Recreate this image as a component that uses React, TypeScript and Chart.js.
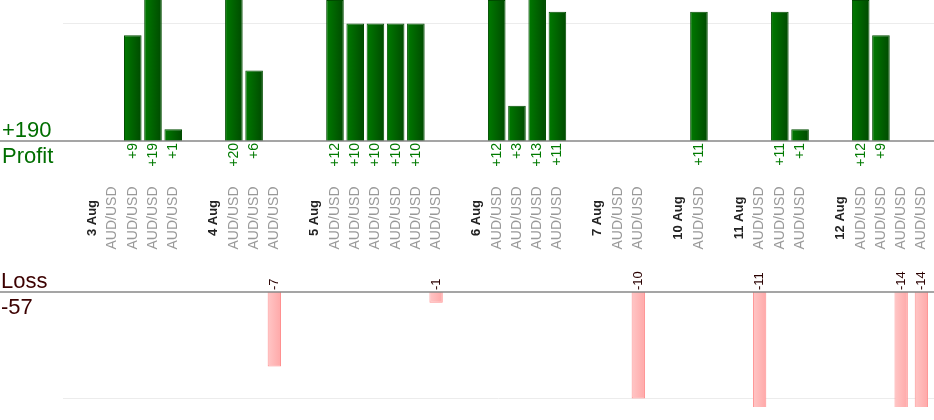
import { useEffect, useRef } from "react";
import { Chart, registerables, type Plugin } from "chart.js";

Chart.register(...registerables);

// one slot per column: blank spacer, day header, then one slot per trade
const slotLabels: string[] = [
  "", "3 Aug", "AUD/USD", "AUD/USD", "AUD/USD", "AUD/USD",
  "", "4 Aug", "AUD/USD", "AUD/USD", "AUD/USD",
  "", "5 Aug", "AUD/USD", "AUD/USD", "AUD/USD", "AUD/USD", "AUD/USD", "AUD/USD",
  "", "6 Aug", "AUD/USD", "AUD/USD", "AUD/USD", "AUD/USD",
  "", "7 Aug", "AUD/USD", "AUD/USD",
  "", "10 Aug", "AUD/USD",
  "", "11 Aug", "AUD/USD", "AUD/USD", "AUD/USD",
  "", "12 Aug", "AUD/USD", "AUD/USD", "AUD/USD", "AUD/USD",
];

const dayHeaders = ["3 Aug", "4 Aug", "5 Aug", "6 Aug", "7 Aug", "10 Aug", "11 Aug", "12 Aug"];

// pips per trade, null where the slot is not a trade
const tradeResults: (number | null)[] = [
  null, null, 0, 9, 19, 1,
  null, null, 20, 6, -7,
  null, null, 12, 10, 10, 10, 10, -1,
  null, null, 12, 3, 13, 11,
  null, null, 0, -10,
  null, null, 11,
  null, null, -11, 11, 1,
  null, null, 12, 9, -14, -14,
];

const profitValues = tradeResults.map((v) => (v !== null && v > 0 ? v : null));
const lossValues = tradeResults.map((v) => (v !== null && v < 0 ? v : null));

const totalProfit = profitValues.reduce<number>((a, v) => a + (v ?? 0), 0);
const totalLoss = lossValues.reduce<number>((a, v) => a + (v ?? 0), 0);

const FONT = "Arial, 'Liberation Sans', Helvetica, sans-serif";
const PROFIT_PCT = 0.87;
const LOSS_PCT = 0.66;

function barGradient(from: string, to: string, pct: number) {
  return (context: any) => {
    const chart = context.chart as Chart;
    const x = chart.scales.x;
    if (!chart.chartArea || !x || context.dataIndex === undefined) return to;
    const cx = x.getPixelForValue(context.dataIndex);
    const half = ((chart.chartArea.width / slotLabels.length) * pct) / 2;
    const g = chart.ctx.createLinearGradient(cx - half, 0, cx + half, 0);
    g.addColorStop(0, from);
    g.addColorStop(1, to);
    return g;
  };
}

function vText(ctx: CanvasRenderingContext2D, text: string, x: number, y: number, align: CanvasTextAlign) {
  ctx.save();
  ctx.translate(x, y);
  ctx.rotate(-Math.PI / 2);
  ctx.textAlign = align;
  ctx.textBaseline = "middle";
  ctx.fillText(text, 0, 0);
  ctx.restore();
}

const tradePlugin: Plugin<"bar"> = {
  id: "tradeLabels",
  beforeDatasetsDraw(chart) {
    const { ctx, scales, width } = chart;
    const left = chart.chartArea.left + 1;
    ctx.save();
    ctx.strokeStyle = "#ececec";
    ctx.lineWidth = 1;
    const gP = Math.round(scales.yProfit.getPixelForValue(10)) + 0.5;
    const gL = Math.round(scales.yLoss.getPixelForValue(-10)) + 0.5;
    ctx.beginPath();
    ctx.moveTo(left, gP);
    ctx.lineTo(width, gP);
    ctx.moveTo(left, gL);
    ctx.lineTo(width, gL);
    ctx.stroke();
    ctx.restore();
  },
  afterDatasetsDraw(chart) {
    const { ctx, scales, width } = chart;
    const x = scales.x;
    const zeroP = scales.yProfit.getPixelForValue(0);
    const zeroL = scales.yLoss.getPixelForValue(0);
    ctx.save();

    ctx.strokeStyle = "#888888";
    ctx.lineWidth = 1.5;
    ctx.beginPath();
    ctx.moveTo(0, zeroP);
    ctx.lineTo(width, zeroP);
    ctx.moveTo(0, zeroL);
    ctx.lineTo(width, zeroL);
    ctx.stroke();

    const mid = (zeroP + zeroL) / 2 + 1.5;
    slotLabels.forEach((label, i) => {
      if (!label) return;
      const px = x.getPixelForValue(i);
      if (dayHeaders.includes(label)) {
        ctx.font = `bold 13px ${FONT}`;
        ctx.fillStyle = "#222222";
      } else {
        ctx.font = `14px ${FONT}`;
        ctx.fillStyle = "#999999";
      }
      vText(ctx, label, px, mid, "center");

      const v = tradeResults[i];
      if (v !== null && v > 0) {
        ctx.font = `14px ${FONT}`;
        ctx.fillStyle = "#007a00";
        vText(ctx, `+${v}`, px, zeroP + 2, "right");
      } else if (v !== null && v < 0) {
        ctx.font = `13px ${FONT}`;
        ctx.fillStyle = "#2a0000";
        vText(ctx, `${v}`, px, zeroL - 2, "left");
      }
    });

    ctx.textAlign = "left";
    ctx.textBaseline = "alphabetic";
    ctx.font = `22px ${FONT}`;
    ctx.fillStyle = "#006e00";
    ctx.fillText(`+${totalProfit}`, 2, zeroP - 3.5);
    ctx.fillText("Profit", 2, zeroP + 22);
    ctx.fillStyle = "#3c0000";
    ctx.fillText("Loss", 1, zeroL - 4);
    ctx.fillText(`${totalLoss}`, 1, zeroL + 22);

    ctx.restore();
  },
};

export default function App() {
  const canvasRef = useRef<HTMLCanvasElement>(null);
  const chartRef = useRef<Chart | null>(null);

  useEffect(() => {
    document.body.style.margin = "0";
    if (!canvasRef.current) return;
    if (chartRef.current) chartRef.current.destroy();

    chartRef.current = new Chart(canvasRef.current, {
      type: "bar",
      data: {
        labels: slotLabels,
        datasets: [
          {
            label: "Profit",
            data: profitValues,
            yAxisID: "yProfit",
            grouped: false,
            barPercentage: PROFIT_PCT,
            categoryPercentage: 1,
            backgroundColor: barGradient("#007a00", "#004a00", PROFIT_PCT),
            borderColor: "#004c00",
            borderWidth: 1,
          },
          {
            label: "Loss",
            data: lossValues,
            yAxisID: "yLoss",
            grouped: false,
            barPercentage: LOSS_PCT,
            categoryPercentage: 1,
            backgroundColor: barGradient("#ffc6c6", "#ffa8a8", LOSS_PCT),
            borderColor: "#ff9090",
            borderWidth: 1,
          },
        ],
      },
      options: {
        responsive: true,
        maintainAspectRatio: false,
        animation: false,
        events: [],
        layout: { padding: { left: 62, right: 2.5, top: 0, bottom: 13 } },
        plugins: { legend: { display: false }, tooltip: { enabled: false } },
        scales: {
          x: { display: false },
          yProfit: { type: "linear", display: false, min: -22.64, max: 12 },
          yLoss: { type: "linear", display: false, min: -10.8, max: 27.42 },
        },
      },
      plugins: [tradePlugin],
    });

    return () => {
      if (chartRef.current) {
        chartRef.current.destroy();
        chartRef.current = null;
      }
    };
  }, []);

  return (
    <div style={{ position: "relative", width: 934, height: 420 }}>
      <canvas ref={canvasRef} />
    </div>
  );
}
